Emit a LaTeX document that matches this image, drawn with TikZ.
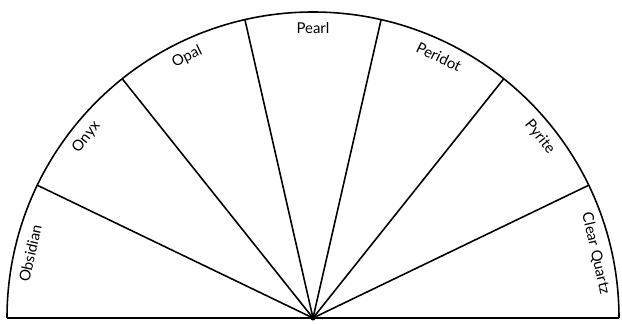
\documentclass[tikz,border=0pt]{standalone}
\usepackage{fontspec}
\setmainfont{Lato}
\begin{document}
\begin{tikzpicture}[
    raggio/.style={line width=0.9pt},
    pietra/.style={font=\fontsize{8.5}{10}\selectfont, inner sep=1pt}
  ]
        \useasboundingbox (0,0) rectangle (12.44,6.46);
        % Centro
        \coordinate (O) at (6.26,0.1);
        \coordinate (A) at ([shift={(180:6.12)}]O);
        \coordinate (B) at ([shift={(0:6.12)}]O);
        % Base e arco
        \draw[line width=1.1pt] (A) -- (B);
        \draw[raggio] (B) arc[start angle=0, end angle=180, radius=6.12];
        % Raggi
        \foreach \i in {1,...,6} {
            \pgfmathsetmacro\ang{180*\i/7}
            \coordinate (P\i) at ([shift={(\ang:6.12)}]O);
            \draw[raggio] (O) -- (P\i);
        }
        \fill (O) circle (0.05);
        % Etichette
        \foreach \nome [count=\i] in {Obsidian, Onyx, Opal, Pearl, Peridot, Pyrite, Clear Quartz} {
            \pgfmathsetmacro\ang{180-180*(\i-0.5)/7}
            \node[pietra, rotate=\ang-90] (s\i) at ([shift={(\ang:5.8)}]O) {\nome};
        }
    \end{tikzpicture}
\end{document}
